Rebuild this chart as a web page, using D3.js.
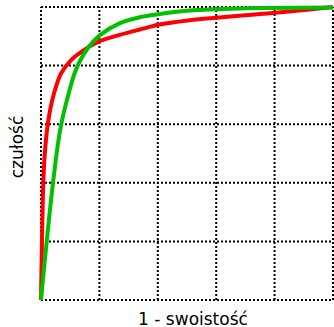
<!DOCTYPE html>
<html>
<head>
<meta charset="utf-8">
<script src="https://cdn.jsdelivr.net/npm/d3@7"></script>
<style>
  body { margin: 0; background: #fff; }
  svg { display: block; font-family: "DejaVu Sans", sans-serif; }
</style>
</head>
<body>
<div id="chart"></div>
<script>
// ROC curves: false positive rate (1 - specificity) vs sensitivity
const ticks = [0, 0.2, 0.4, 0.6, 0.8, 1];

const redFpr = [0, 0.0034, 0.0078, 0.013, 0.020, 0.028, 0.038, 0.052, 0.069, 0.103, 0.138, 0.201, 0.270, 0.338, 0.406, 0.509, 0.611, 0.679, 0.85, 1];
const redTpr = [0, 0.205, 0.399, 0.500, 0.575, 0.630, 0.680, 0.730, 0.774, 0.819, 0.847, 0.883, 0.905, 0.923, 0.940, 0.955, 0.964, 0.970, 0.985, 1];

const greenFpr = [0, 0.020, 0.041, 0.060, 0.070, 0.083, 0.098, 0.115, 0.132, 0.160, 0.201, 0.270, 0.338, 0.406, 0.509, 0.679, 1];
const greenTpr = [0, 0.205, 0.399, 0.546, 0.603, 0.660, 0.717, 0.774, 0.813, 0.859, 0.903, 0.945, 0.965, 0.976, 0.988, 0.995, 0.998];

const xLabel = "1 - swoistość";
const yLabel = "czułość";

const width = 334, height = 327;
const margin = { top: 7, right: 1, bottom: 27, left: 41 };

const svg = d3.select("#chart").append("svg")
  .attr("width", width)
  .attr("height", height);

const x = d3.scaleLinear().domain([0, 1]).range([margin.left, width - margin.right]);
const y = d3.scaleLinear().domain([0, 1]).range([height - margin.bottom, margin.top]);

// dotted grid incl. frame
const grid = svg.append("g")
  .attr("stroke", "#000")
  .attr("stroke-width", 2)
  .attr("stroke-dasharray", "2,2");

grid.selectAll("line.v")
  .data(ticks)
  .enter().append("line")
  .attr("x1", d => x(d)).attr("x2", d => x(d))
  .attr("y1", y(0)).attr("y2", y(1));

grid.selectAll("line.h")
  .data(ticks)
  .enter().append("line")
  .attr("x1", x(0)).attr("x2", x(1))
  .attr("y1", d => y(d)).attr("y2", d => y(d));

const line = d3.line()
  .x(d => x(d[0]))
  .y(d => y(d[1]))
  .curve(d3.curveCatmullRom.alpha(0.5));

svg.append("path")
  .datum(d3.zip(redFpr, redTpr))
  .attr("fill", "none")
  .attr("stroke", "#ff0000")
  .attr("stroke-width", 4)
  .attr("d", line);

svg.append("path")
  .datum(d3.zip(greenFpr, greenTpr))
  .attr("fill", "none")
  .attr("stroke", "#00c000")
  .attr("stroke-width", 4)
  .attr("d", line);

// axis titles
svg.append("text")
  .attr("x", 193)
  .attr("y", 325)
  .attr("text-anchor", "middle")
  .attr("font-size", 17)
  .text(xLabel);

svg.append("text")
  .attr("transform", "translate(23,147) rotate(-90)")
  .attr("text-anchor", "middle")
  .attr("font-size", 17)
  .text(yLabel);
</script>
</body>
</html>
